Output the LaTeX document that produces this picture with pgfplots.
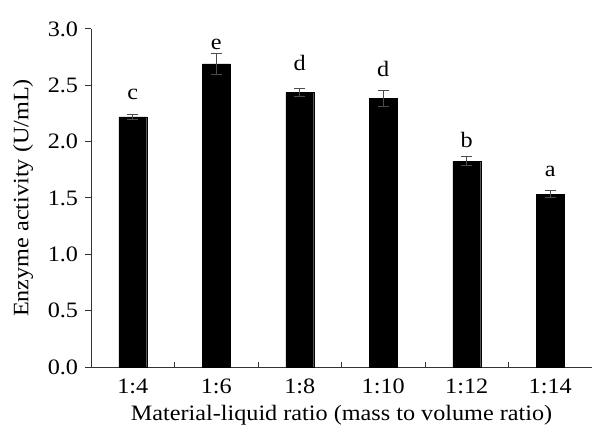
\documentclass[border=0pt]{standalone}
\usepackage{pgfplots}
\pgfplotsset{compat=1.18}
\usepackage{pgfplotstable}
\usepackage{fontspec}
\setmainfont[FakeStretch=1.1]{Liberation Serif}

% mean, error, label position and letter for each ratio
\pgfplotstableread{
x  y     err    ly     lab
0  2.22  0.025  2.37   c
1  2.69  0.09   2.815  e
2  2.435 0.035  2.63   d
3  2.385 0.07   2.58   d
4  1.825 0.04   1.946  b
5  1.535 0.03   1.689  a
}\enzyme

\newcommand{\chartfont}{\fontsize{22bp}{26bp}\selectfont}

\begin{document}
\begin{tikzpicture}
\useasboundingbox (-91bp,-59bp) rectangle (501bp,367bp);
\begin{axis}[
    at={(0,0)}, anchor=south west,
    scale only axis,
    width=501bp, height=338bp,
    axis x line*=bottom,
    axis y line*=left,
    xmin=-0.5, xmax=5.5,
    ymin=0, ymax=3,
    xtick={0,...,5},
    xticklabels={1:4,1:6,1:8,1:10,1:12,1:14},
    minor xtick={0.5,1.5,...,4.5},
    major x tick style={draw=none},
    minor tick length=4.5bp,
    xtick align=inside,
    ytick={0,0.5,...,3},
    ytick align=outside,
    major tick length=6bp,
    tick label style={font=\chartfont},
    label style={font=\chartfont},
    yticklabel style={anchor=east, inner sep=0pt, xshift=-6.7bp,
        /pgf/number format/.cd,fixed,fixed zerofill,precision=1,assume math mode=true},
    xticklabel style={anchor=base, inner sep=0pt, yshift=-26.5bp,
        /pgf/number format/assume math mode=true},
    xlabel={Material-liquid ratio (mass to volume ratio)},
    ylabel={Enzyme activity (U/mL)},
    xlabel style={at={(axis description cs:0.5,0)}, anchor=base, inner sep=0pt, yshift=-53.5bp},
    ylabel style={at={([xshift=-62.5bp]axis description cs:0,0.5)}, anchor=base, inner sep=0pt},
    axis line style={black!80, line width=1pt},
    tick style={black!80, line width=1pt},
    clip=false,
]
\addplot[ybar, bar width=0.335, bar shift=0, fill=black, draw=black,
    error bars/.cd, y dir=both, y explicit,
    error bar style={black!70, line width=0.8pt},
    error mark options={rotate=90, mark size=5.5bp, black!70, line width=0.8pt}]
    table[x=x, y=y, y error=err] {\enzyme};
\addplot[draw=none, mark=none, nodes near coords, point meta=explicit symbolic,
    nodes near coords align={anchor=base},
    every node near coord/.append style={inner sep=0pt, font=\chartfont}]
    table[x=x, y=ly, meta=lab] {\enzyme};
\end{axis}
\end{tikzpicture}
\end{document}
